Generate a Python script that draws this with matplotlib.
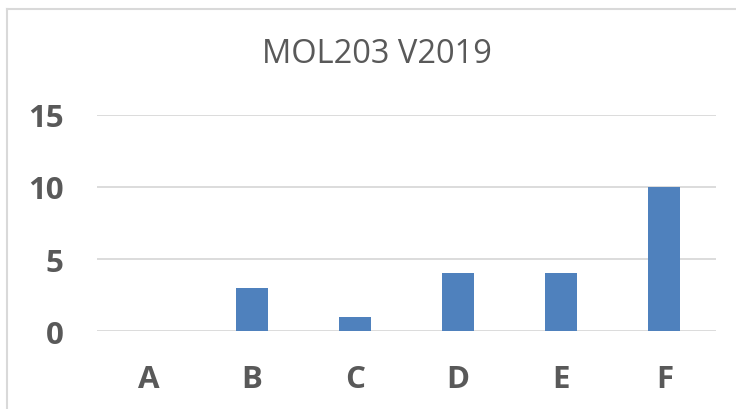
import matplotlib.pyplot as plt

# 数据
categories = ['A', 'B', 'C', 'D', 'E', 'F']
values = [0, 3, 1, 4, 4, 10]
y_ticks = [0, 5, 10, 15]
title = 'MOL203 V2019'

text_color = '#595959'
grid_color = '#D9D9D9'
bar_color = '#4F81BD'

plt.rcParams['font.family'] = ['Open Sans', 'DejaVu Sans']

fig = plt.figure(figsize=(7.36, 4.10), dpi=100)
ax = fig.add_axes([0.1318, 0.1902, 0.841, 0.5269])

x = list(range(len(categories)))
ax.bar(x, values, width=0.31, color=bar_color, zorder=3)

ax.set_xlim(-0.5, len(categories) - 0.5)
ax.set_ylim(0, 15)
ax.set_yticks(y_ticks)
ax.set_xticks(x)
ax.set_xticklabels(categories)

# 网格线
ax.yaxis.grid(True, color=grid_color, linewidth=1.3, zorder=0)
ax.xaxis.grid(False)
for s in ax.spines.values():
    s.set_visible(False)
ax.tick_params(length=0, colors=text_color, labelsize=22.5)
ax.tick_params(axis='y', pad=24)
ax.tick_params(axis='x', pad=24)
for lab in ax.get_xticklabels() + ax.get_yticklabels():
    lab.set_fontweight('bold')
    lab.set_color(text_color)

fig.text(0.512, 0.867, title, ha='center', va='center', fontsize=23.5, color=text_color)

# 外框
fig.add_artist(plt.Line2D([0.0095, 0.0095], [0, 0.975], transform=fig.transFigure,
                          color=grid_color, linewidth=1.5))
fig.add_artist(plt.Line2D([0.0095, 1.0], [0.975, 0.975], transform=fig.transFigure,
                          color=grid_color, linewidth=1.5))

fig.savefig('out.png', dpi=100)
